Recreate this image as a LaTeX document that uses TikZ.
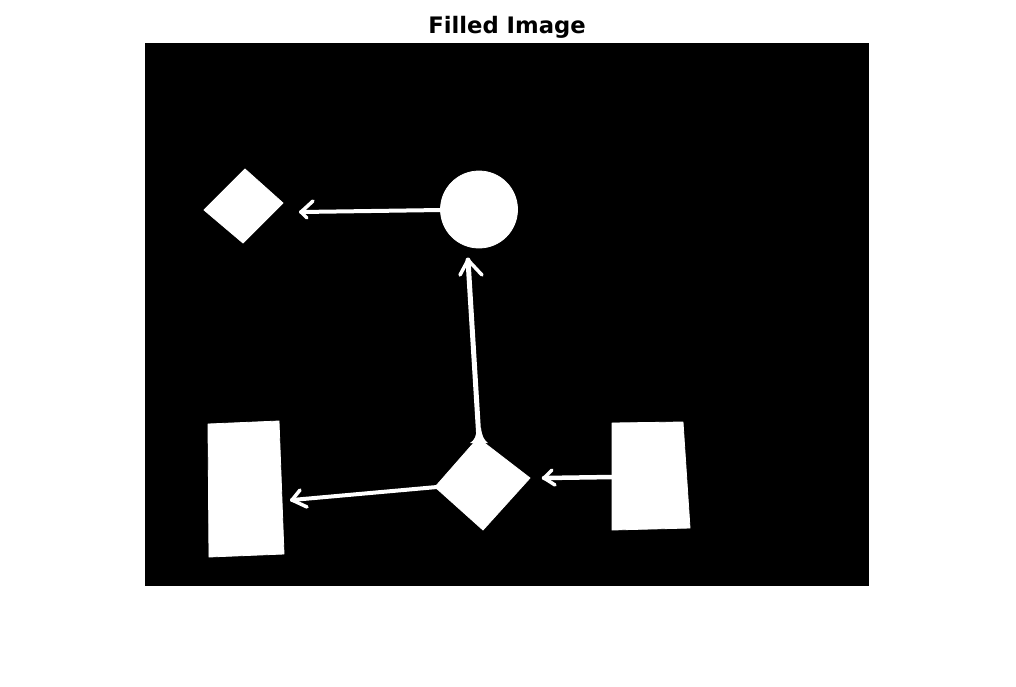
\documentclass[tikz,border=0pt]{standalone}
\usepackage{fontspec}
\setsansfont{DejaVu Sans}
\begin{document}
\begin{tikzpicture}[x=1pt,y=-1pt,
  blob/.style={fill=white,draw=white,line width=0.8pt,line join=round},
  wire/.style={draw=white,line width=4.5pt,line cap=round,line join=round},
  barb/.style={draw=white,line width=3.5pt,line cap=round,line join=round}]
\useasboundingbox (0,0) rectangle (1016,686);
\fill[white] (0,0) rectangle (1016,686);
\fill[black] (145,43) rectangle (869,586);
\node[anchor=base,font=\sffamily\bfseries\fontsize{22.7}{26}\selectfont,inner sep=0pt] (title) at (507,33) {Filled Image};
% shapes
\draw[blob] (204,210) -- (245,169) -- (283,203) -- (243,243) -- cycle;
\draw[blob] (479,209.5) ellipse (38.5pt and 38.5pt);
\draw[blob] (478,438) -- (530,478) -- (483,530) -- (435,487) -- cycle;
\draw[blob] (208,424) -- (279,421) -- (284,554) -- (209,557) -- cycle;
\draw[blob] (612,423) -- (683,422) -- (690,528) -- (612,530) -- cycle;
% connector coordinates
\coordinate (cL) at (441,210);
\coordinate (t1) at (301,212);
\coordinate (dT) at (479,440);
\coordinate (t2) at (468,260);
\coordinate (dL) at (437,487);
\coordinate (t3) at (292,500);
\coordinate (rL) at (613,477);
\coordinate (t4) at (544,478);
% connectors
\draw[wire,line width=4pt] (cL) -- (t1);
\draw[barb] (313,201) -- (t1) -- (307,218);
\draw[wire,line width=5pt] (dT) -- (t2);
\draw[barb] (460,275) -- (t2) -- (482,275);
\fill[white] (470,443) .. controls (475,440) and (476,436) .. (477,428) -- (481,428) .. controls (482,436) and (484,440) .. (488,443) -- cycle;
\draw[wire,line width=4pt] (dL) -- (t3);
\draw[barb] (300,490) -- (t3) -- (307,507);
\draw[wire,line width=4.5pt] (rL) -- (t4);
\draw[barb] (552,470) -- (t4) -- (555,485);
\end{tikzpicture}
\end{document}
